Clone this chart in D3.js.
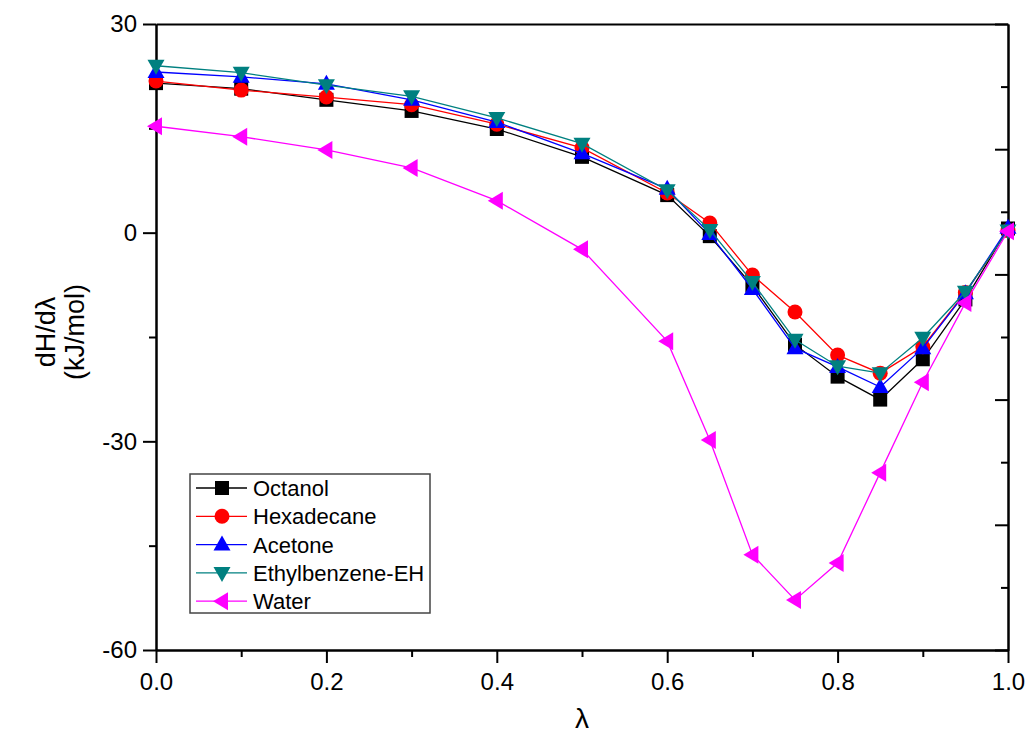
<html>
<head>
<script src="https://d3js.org/d3.v7.min.js"></script>
<style>
  body { margin: 0; background: #fff; }
  svg { font-family: "Liberation Sans", Arial, sans-serif; }
  .axis path, .axis line { stroke: #000; stroke-width: 2; }
  .axis text { font-size: 24px; fill: #000; }
  .series { fill: none; stroke-width: 1.3; }
  .legend text { font-size: 22px; }
</style>
</head>
<body>
<div id="chart"></div>
<script>
// lambda values (x)
var lambdas = [0, 0.1, 0.2, 0.3, 0.4, 0.5, 0.6, 0.65, 0.7, 0.75, 0.8, 0.85, 0.9, 0.95, 1.0];

// dH/dlambda per solvent, kJ/mol
var octanol     = [21.5, 20.7, 19.1, 17.5, 14.9, 10.9, 5.4, -0.5, -7.6, -16.1, -20.7, -24.0, -18.2, -9.6, 0.6];
var hexadecane  = [21.8, 20.5, 19.5, 18.4, 15.6, 12.2, 5.7, 1.4, -6.1, -11.4, -17.6, -20.2, -16.4, -8.6, 0.3];
var acetone     = [23.1, 22.4, 21.4, 19.1, 15.9, 11.4, 6.3, -0.2, -8.1, -16.6, -19.3, -22.2, -16.6, -8.7, 0.7];
var ethylbenz   = [24.0, 23.0, 21.2, 19.6, 16.5, 12.8, 6.1, 0.4, -7.1, -15.4, -19.2, -20.2, -15.1, -8.5, 0.3];
var water       = [15.3, 13.8, 11.9, 9.3, 4.6, -2.4, -15.6, -29.8, -46.3, -52.8, -47.5, -34.5, -21.5, -10.1, 0.2];

var seriesNames  = ["Octanol", "Hexadecane", "Acetone", "Ethylbenzene-EH", "Water"];
var seriesValues = [octanol, hexadecane, acetone, ethylbenz, water];
var seriesColors = ["#000000", "#ff0000", "#0000ff", "#008080", "#ff00ff"];
var seriesShapes = ["square", "circle", "up", "down", "left"];

var xTicks = [0, 0.2, 0.4, 0.6, 0.8, 1.0];
var xMinor = [0.1, 0.3, 0.5, 0.7, 0.9];
var yTicks = [30, 0, -30, -60];
var yMinor = [15, -15, -45];

var width = 1032, height = 747;
var plotL = 156, plotR = 1008, plotT = 24, plotB = 650;

var svg = d3.select("#chart").append("svg")
  .attr("width", width).attr("height", height);

var x = d3.scaleLinear().domain([0, 1]).range([plotL, plotR]);
var y = d3.scaleLinear().domain([-60, 30]).range([plotB, plotT]);

/* axes */
svg.append("g").attr("class", "axis")
  .attr("transform", "translate(0," + plotB + ")")
  .call(d3.axisBottom(x).tickValues(xTicks).tickSize(13).tickSizeOuter(0).tickPadding(10)
        .tickFormat(d3.format(".1f")));
svg.append("g").attr("class", "axis")
  .attr("transform", "translate(0," + plotB + ")")
  .call(d3.axisBottom(x).tickValues(xMinor).tickSize(7).tickSizeOuter(0).tickFormat(""));

svg.append("g").attr("class", "axis")
  .attr("transform", "translate(" + plotL + ",0)")
  .call(d3.axisLeft(y).tickValues(yTicks).tickSize(13).tickSizeOuter(0).tickPadding(6)
        .tickFormat(function(d) { return String(d); }));
svg.append("g").attr("class", "axis")
  .attr("transform", "translate(" + plotL + ",0)")
  .call(d3.axisLeft(y).tickValues(yMinor).tickSize(7).tickSizeOuter(0).tickFormat(""));

// right axis: own tick spacing, ticks pointing inward
svg.append("g").attr("class", "axis")
  .attr("transform", "translate(" + plotR + ",0)")
  .call(d3.axisLeft(y).tickValues(d3.range(-60, 31, 18)).tickSize(13).tickSizeOuter(0).tickFormat(""));
svg.append("g").attr("class", "axis")
  .attr("transform", "translate(" + plotR + ",0)")
  .call(d3.axisLeft(y).tickValues(d3.range(-51, 30, 18)).tickSize(7).tickSizeOuter(0).tickFormat(""));

// top border
svg.append("g").attr("class", "axis")
  .attr("transform", "translate(0," + plotT + ")")
  .call(d3.axisTop(x).tickValues([]).tickSizeOuter(0));

/* axis titles */
svg.append("text")
  .attr("x", (plotL + plotR) / 2).attr("y", 728)
  .attr("text-anchor", "middle").style("font-size", "28px")
  .text("λ");
svg.append("text")
  .attr("transform", "translate(55,332) rotate(-90)")
  .attr("text-anchor", "middle").style("font-size", "27px")
  .text("dH/dλ");
svg.append("text")
  .attr("transform", "translate(84,332) rotate(-90)")
  .attr("text-anchor", "middle").style("font-size", "27px")
  .text("(kJ/mol)");

/* markers */
function shapePath(s) {
  if (s === "square") return "M-7,-7H7V7H-7Z";
  if (s === "circle") return "M-7.5,0A7.5,7.5 0 1,0 7.5,0A7.5,7.5 0 1,0 -7.5,0Z";
  if (s === "up") return "M0,-9L8.5,6L-8.5,6Z";
  if (s === "down") return "M0,9L8.5,-6L-8.5,-6Z";
  return "M-9,0L6,-9L6,9Z";
}

var line = d3.line().x(function(d) { return x(d[0]); }).y(function(d) { return y(d[1]); });

seriesValues.forEach(function(vals, i) {
  var pts = vals.map(function(v, j) { return [lambdas[j], v]; });
  var g = svg.append("g");
  g.append("path").attr("class", "series")
    .attr("d", line(pts))
    .style("stroke", seriesColors[i]);
  g.selectAll("path.mark").data(pts).enter()
    .append("path").attr("class", "mark")
    .attr("d", shapePath(seriesShapes[i]))
    .attr("transform", function(d) { return "translate(" + x(d[0]) + "," + y(d[1]) + ")"; })
    .style("fill", seriesColors[i]);
});

/* legend */
var lg = svg.append("g").attr("class", "legend");
lg.append("rect")
  .attr("x", 190).attr("y", 474).attr("width", 240).attr("height", 139)
  .attr("fill", "#fff").attr("stroke", "#444").attr("stroke-width", 1.5);
seriesNames.forEach(function(name, i) {
  var ly = 488 + i * 28.3;
  lg.append("line").attr("x1", 196).attr("x2", 247).attr("y1", ly).attr("y2", ly)
    .style("stroke", seriesColors[i]).style("stroke-width", 1.3);
  lg.append("path").attr("d", shapePath(seriesShapes[i]))
    .attr("transform", "translate(222," + ly + ")")
    .style("fill", seriesColors[i]);
  lg.append("text").attr("x", 253).attr("y", ly + 8).text(name);
});
</script>
</body>
</html>
